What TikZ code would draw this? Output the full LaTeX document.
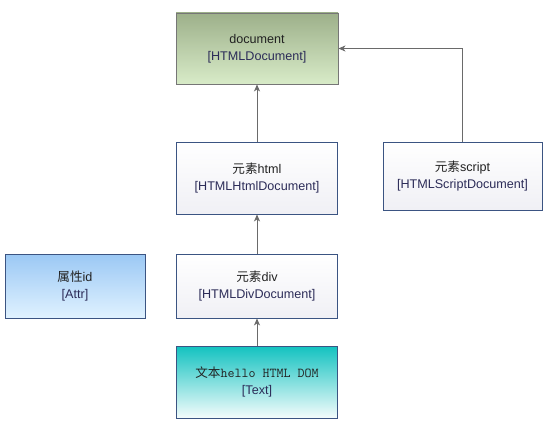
\documentclass[tikz,border=0pt]{standalone}
\usepackage{fontspec}
\setmainfont{Liberation Sans}
\newfontfamily\cjk{Noto Sans CJK SC}
\usetikzlibrary{arrows.meta}

\definecolor{boxblue}{HTML}{3B5482}
\definecolor{boxgray}{HTML}{767676}
\definecolor{linkgray}{HTML}{6A6A6A}
\definecolor{txtdark}{HTML}{222222}
\definecolor{txtsub}{HTML}{2C2C58}

\tikzset{
  elem/.style={draw=boxblue, line width=0.9pt, rectangle, align=center,
               font=\fontsize{12.6}{17.5}\selectfont, text=txtdark,
               minimum width=161pt, minimum height=71pt,
               top color=white, bottom color=blue!20!gray!10},
  link/.style={draw=linkgray, line width=0.8pt,
               -{Stealth[length=7pt,width=6pt,inset=2pt]}}
}
\newcommand{\sublabel}[1]{\textcolor{txtsub}{#1}}

\begin{document}
\begin{tikzpicture}[x=1pt, y=1pt]
  \fill[white] (0,0) rectangle (552,-425);
  \useasboundingbox (0,0) rectangle (552,-425);

  \node (doc)  [elem, draw=boxgray, minimum width=162pt,
               top color={rgb,255:red,157;green,176;blue,138},
               bottom color={rgb,255:red,216;green,235;blue,200}]
               at (257,-48.5) {document\\\sublabel{[HTMLDocument]}};
  \node (html) [elem, node distance=129.5pt, below of=doc, minimum height=72pt]
               {{\cjk 元素}html\\\sublabel{[HTMLHtmlDocument]}};
  \node (scr)  [elem, minimum width=159pt, minimum height=68pt,
               right of=html, node distance=205.5pt, yshift=2pt]
               {{\cjk 元素}script\\\sublabel{[HTMLScriptDocument]}};
  \node (div)  [elem, node distance=108pt, below of=html, minimum height=64pt]
               {{\cjk 元素}div\\\sublabel{[HTMLDivDocument]}};
  \node (attr) [elem, minimum width=140pt, minimum height=64pt,
               left of=div, node distance=182pt,
               top color={rgb,255:red,155;green,200;blue,244},
               bottom color={rgb,255:red,224;green,242;blue,255}]
               {{\cjk 属性}id\\\sublabel{[Attr]}};
  \node (txt)  [elem, node distance=96pt, below of=div, minimum height=72pt,
               top color={rgb,255:red,18;green,194;blue,192},
               bottom color={rgb,255:red,244;green,252;blue,252}]
               {{\cjk 文本}{\ttfamily\fontsize{13.6}{17.5}\selectfont hello HTML DOM}\\\sublabel{[Text]}};

  \draw[link] (txt)  -- (div);
  \draw[link] (div)  -- (html);
  \draw[link] (html) -- (doc);
  \draw[link] (scr.north) |- (doc.east);
\end{tikzpicture}
\end{document}
